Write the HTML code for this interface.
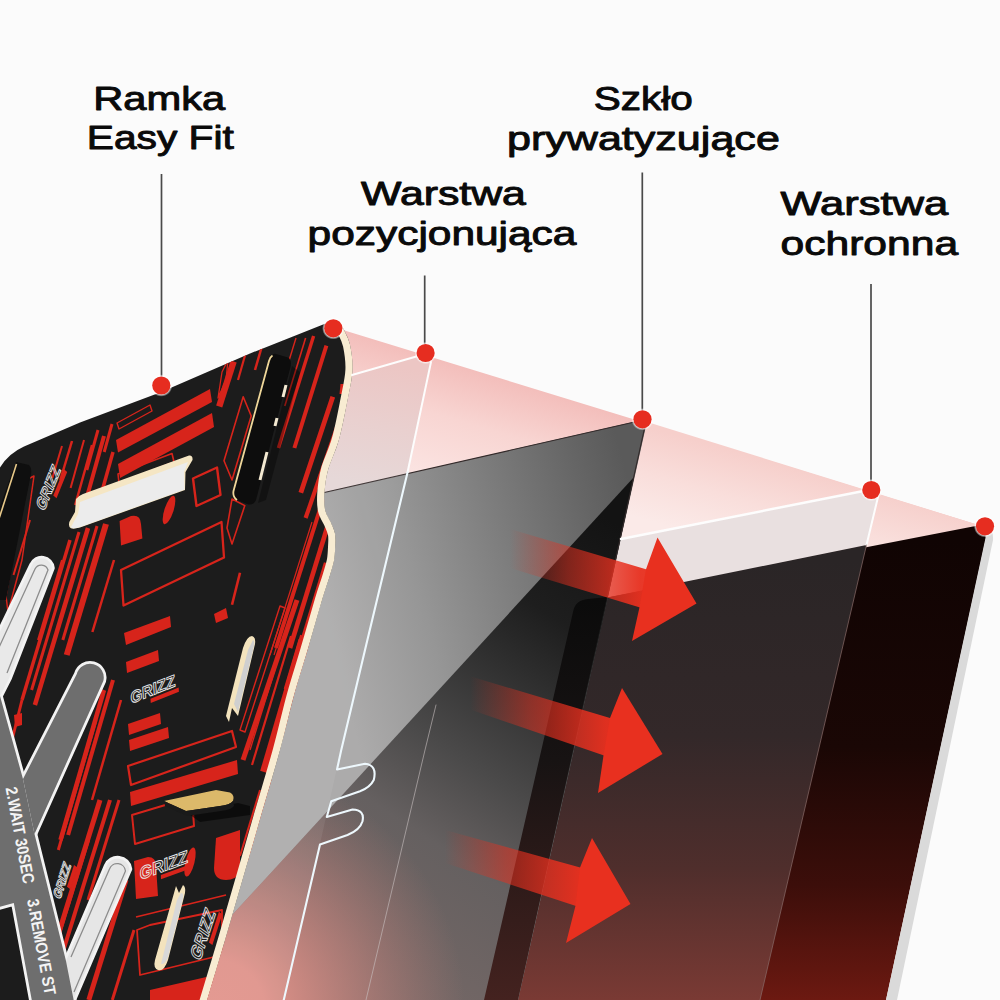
<!DOCTYPE html>
<html><head><meta charset="utf-8">
<style>
html,body{margin:0;padding:0;background:#fbfbfb;}
body{width:1000px;height:1000px;overflow:hidden;position:relative;font-family:"Liberation Sans",sans-serif;}
svg{position:absolute;left:0;top:0;}
.lbl{font-family:"Liberation Sans",sans-serif;font-size:33.5px;fill:#0a0a0a;stroke:#0a0a0a;stroke-width:0.95px;stroke-linejoin:round;text-anchor:middle;}
</style></head><body>
<svg width="1000" height="1000" viewBox="0 0 1000 1000">
<defs>
<linearGradient id="gPink" gradientUnits="userSpaceOnUse" x1="500" y1="378" x2="466" y2="490">
 <stop offset="0" stop-color="#f3bebb"/><stop offset="0.45" stop-color="#f8d5d2"/><stop offset="1" stop-color="#fbe4e2"/>
</linearGradient>
<linearGradient id="gPink2" gradientUnits="userSpaceOnUse" x1="760" y1="458" x2="736" y2="545">
 <stop offset="0" stop-color="#f6cfcb"/><stop offset="0.5" stop-color="#f9dedb"/><stop offset="1" stop-color="#fbeae8"/>
</linearGradient>
<linearGradient id="gPinkPos" gradientUnits="userSpaceOnUse" x1="390" y1="365" x2="365" y2="485">
 <stop offset="0" stop-color="#ecc6c4"/><stop offset="0.5" stop-color="#e9d0cf"/><stop offset="1" stop-color="#e6d8d8"/>
</linearGradient>
<linearGradient id="gPhone" gradientUnits="userSpaceOnUse" x1="0" y1="540" x2="0" y2="1000">
 <stop offset="0" stop-color="#100403"/><stop offset="0.45" stop-color="#1a0705"/><stop offset="0.75" stop-color="#3c0e0a"/><stop offset="1" stop-color="#6c1911"/>
</linearGradient>
<linearGradient id="gProt" gradientUnits="userSpaceOnUse" x1="0" y1="560" x2="0" y2="1000">
 <stop offset="0" stop-color="#2a2526"/><stop offset="0.4" stop-color="#332829"/><stop offset="0.7" stop-color="#4f2e2c"/><stop offset="1" stop-color="#7a3a34"/>
</linearGradient>
<linearGradient id="gBand" gradientUnits="userSpaceOnUse" x1="0" y1="600" x2="0" y2="1000">
 <stop offset="0" stop-color="#0b0b0b"/><stop offset="0.4" stop-color="#171313"/><stop offset="1" stop-color="#44221f"/>
</linearGradient>
<linearGradient id="gGlassL" gradientUnits="userSpaceOnUse" x1="320" y1="610" x2="640" y2="520">
 <stop offset="0" stop-color="#acabab"/><stop offset="0.3" stop-color="#969696"/><stop offset="0.62" stop-color="#7a7a7a"/><stop offset="0.85" stop-color="#666"/><stop offset="1" stop-color="#5a5a5a"/>
</linearGradient>
<linearGradient id="gGlassD" gradientUnits="userSpaceOnUse" x1="610" y1="520" x2="300" y2="990">
 <stop offset="0" stop-color="#131313"/><stop offset="0.2" stop-color="#1e1e1e"/><stop offset="0.31" stop-color="#2e2e2e"/><stop offset="0.5" stop-color="#4b4a4a"/><stop offset="0.65" stop-color="#656060"/><stop offset="1" stop-color="#7a6a68"/>
</linearGradient>
<radialGradient id="gGlow" gradientUnits="userSpaceOnUse" cx="215" cy="1010" r="250">
 <stop offset="0" stop-color="#e2938a" stop-opacity="1"/><stop offset="0.2" stop-color="#e2938a" stop-opacity="0.97"/><stop offset="0.6" stop-color="#d88a82" stop-opacity="0.48"/><stop offset="1" stop-color="#c88078" stop-opacity="0"/>
</radialGradient>
</defs>
<g id="scene">
<!-- pink planes -->
<polygon points="343,330 985,527 975,560 600,620 330,500 345,400" fill="url(#gPink)"/>
<polygon points="644,421 985,527 960,560 607,600" fill="url(#gPink2)"/>
<!-- positioning layer pink tint -->
<polygon points="345,377 425,354 431,362 407,473 320,494" fill="url(#gPinkPos)"/>
<!-- protective band (between white line and phone top) -->
<polygon points="618,540 868,490.5 879,496 866.5,545 607,598" fill="#e9e0e0"/>
<!-- phone -->
<path d="M600,599 L973,526.5 Q988,524 986,538 L886,1000 L480,1000 Z" fill="url(#gPhone)"/>
<!-- silver edge -->
<path d="M976,525.5 Q994,523 993,540 L897,1000 L886,1000 L985.5,538 Q986,528 976,525.5 Z" fill="#dadada"/>
<!-- protective layer over phone -->
<polygon points="600,599 866.5,545 760,1000 480,1000" fill="url(#gProt)"/>
<!-- privacy glass -->
<polygon points="318,494 642,420 646,426 518,1000 200,1000" fill="url(#gGlassL)"/>
<polygon points="634,477 603,620 518,1000 200,1000 200,950" fill="url(#gGlassD)"/>
<polygon points="634,477 603,620 518,1000 200,1000 200,950" fill="url(#gGlow)"/>
<path d="M320,493.5 L640,420.8 Q645,420 645,426 L607,598" stroke="#332a2a" stroke-width="1.1" fill="none"/>
<polygon points="318,494 407.5,472.5 365,650 341,750 320,844 284,1000 200,1000" fill="#fff" opacity="0.07"/>
<path d="M573,612 Q575,600 588,599 L607,597 L518,1000 L484,1000 Z" fill="url(#gBand)"/>
</g>
<!--FRAME-->
<g id="frame">
<path d="M-5,1010 L-5,478 Q3,456 24,446.5 L80,422.5 L160,392.5 L250,353.5 L325,323.75 C326.5,323.4 331.5,321.5 334.0,321.5 C336.5,321.5 338.3,322.6 340.0,324.0 C341.7,325.4 342.3,326.5 344.0,330.0 C345.7,333.5 348.6,338.3 350.0,345.0 C351.4,351.7 352.9,360.8 352.5,370.0 C352.1,379.2 349.8,388.3 347.5,400.0 C345.2,411.7 342.1,428.3 338.8,440.0 C335.6,451.7 330.4,461.2 328.0,470.0 C325.6,478.8 324.9,486.1 324.4,492.8 C323.9,499.5 323.9,505.0 325.0,510.0 C326.1,515.0 329.3,519.0 331.0,523.0 C332.7,527.0 334.3,530.3 335.0,534.0 C335.7,537.7 335.4,540.7 335.2,545.0 C335.0,549.3 334.9,555.0 334.0,560.0 C333.1,565.0 332.0,568.3 330.0,575.0 C328.0,581.7 325.8,587.5 322.0,600.0 C318.2,612.5 312.2,634.2 307.5,650.0 C302.8,665.8 298.6,678.3 294.0,695.0 C289.4,711.7 285.3,730.5 280.0,750.0 C274.7,769.5 268.2,790.7 262.0,812.0 C255.8,833.3 249.2,856.7 243.0,878.0 C236.8,899.3 231.0,919.7 225.0,940.0 C219.0,960.3 210.5,988.3 207.0,1000.0 C203.5,1011.7 204.5,1008.3 204.0,1010.0 Z" fill="#1c1c1c"/>
<clipPath id="fclip"><path d="M-5,1010 L-5,478 Q3,456 24,446.5 L80,422.5 L160,392.5 L250,353.5 L325,323.75 C326.5,323.4 331.5,321.5 334.0,321.5 C336.5,321.5 338.3,322.6 340.0,324.0 C341.7,325.4 342.3,326.5 344.0,330.0 C345.7,333.5 348.6,338.3 350.0,345.0 C351.4,351.7 352.9,360.8 352.5,370.0 C352.1,379.2 349.8,388.3 347.5,400.0 C345.2,411.7 342.1,428.3 338.8,440.0 C335.6,451.7 330.4,461.2 328.0,470.0 C325.6,478.8 324.9,486.1 324.4,492.8 C323.9,499.5 323.9,505.0 325.0,510.0 C326.1,515.0 329.3,519.0 331.0,523.0 C332.7,527.0 334.3,530.3 335.0,534.0 C335.7,537.7 335.4,540.7 335.2,545.0 C335.0,549.3 334.9,555.0 334.0,560.0 C333.1,565.0 332.0,568.3 330.0,575.0 C328.0,581.7 325.8,587.5 322.0,600.0 C318.2,612.5 312.2,634.2 307.5,650.0 C302.8,665.8 298.6,678.3 294.0,695.0 C289.4,711.7 285.3,730.5 280.0,750.0 C274.7,769.5 268.2,790.7 262.0,812.0 C255.8,833.3 249.2,856.7 243.0,878.0 C236.8,899.3 231.0,919.7 225.0,940.0 C219.0,960.3 210.5,988.3 207.0,1000.0 C203.5,1011.7 204.5,1008.3 204.0,1010.0 Z"/></clipPath>
<g clip-path="url(#fclip)">
<polygon points="116.0,440.0 210.0,389.0 212.0,402.0 118.0,452.5" fill="#d7241b" />
<polygon points="118.0,464.0 212.0,413.0 214.0,427.0 120.0,478.0" fill="#d7241b" />
<polygon points="117.0,423.0 150.0,405.0 152.0,411.0 119.0,429.0" fill="none" stroke="#d7241b" stroke-width="1.4" stroke-linejoin="round"/>
<polygon points="121.0,570.0 221.5,522.0 224.0,557.5 123.5,605.5" fill="none" stroke="#d7241b" stroke-width="2.3" stroke-linejoin="round"/>
<polygon points="193.0,478.5 217.0,467.5 220.5,495.0 196.5,506.0" fill="none" stroke="#d7241b" stroke-width="2.4" stroke-linejoin="round"/>
<path d="M119.6,521 L131,516 Q140.5,514 141,524 L142.4,538.4 L121,545.6 Z" fill="#d7241b"/>
<ellipse cx="169" cy="510" rx="4.5" ry="15" transform="rotate(18 169 510)" fill="#d7241b"/>
<polygon points="118.0,474.0 172.0,453.5 174.0,462.0 119.0,483.0" fill="none" stroke="#d7241b" stroke-width="1.6" stroke-linejoin="round"/>
<polygon points="214.0,614.0 226.0,608.0 228.0,618.0 216.0,623.0" fill="#d7241b" />
<polygon points="124.0,633.0 170.0,616.0 171.0,627.0 126.0,645.0" fill="#d7241b" />
<polygon points="126.0,662.0 158.0,650.0 159.0,661.0 127.0,673.0" fill="#d7241b" />
<polygon points="128.0,724.0 160.0,713.0 161.0,724.0 129.0,735.0" fill="#d7241b" />
<polygon points="129.0,740.0 168.0,727.0 169.0,738.0 130.0,751.0" fill="#d7241b" />
<polygon points="128.0,766.0 232.0,731.0 236.0,747.0 131.0,785.0" fill="none" stroke="#d7241b" stroke-width="2.2" stroke-linejoin="round"/>
<polygon points="130.0,792.0 237.0,760.0 238.0,774.0 131.0,806.0" fill="#d7241b" />
<polygon points="132.0,815.0 192.0,797.0 194.0,826.0 135.0,844.0" fill="none" stroke="#d7241b" stroke-width="2.0" stroke-linejoin="round"/>
<path d="M216,838 L240,830 L240,872 Q236,880 226,880 Q214,880 214,868 Z" fill="#d7241b"/>
<path d="M134,861 L148,857 Q156,857 156,866 L158,896 L136,899 Z" fill="#d7241b"/>
<ellipse cx="190" cy="862" rx="4.5" ry="15" transform="rotate(14 190 862)" fill="#d7241b"/>
<line x1="136.0" y1="917.0" x2="226.0" y2="895.0" stroke="#d7241b" stroke-width="1.8" stroke-linecap="butt"/>
<polygon points="137.0,930.0 150.0,925.0 222.0,910.0 222.0,955.0 140.0,975.0" fill="none" stroke="#d7241b" stroke-width="1.8" stroke-linejoin="round"/>
<polygon points="150.0,990.0 215.0,975.0 214.0,1000.0 150.0,1000.0" fill="#d7241b" />
<line x1="62.0" y1="446.0" x2="52.4" y2="478.0" stroke="#d7241b" stroke-width="2.0" stroke-linecap="butt"/>
<line x1="72.0" y1="441.0" x2="60.3" y2="480.0" stroke="#d7241b" stroke-width="2.5" stroke-linecap="butt"/>
<line x1="98.0" y1="430.0" x2="86.8" y2="470.0" stroke="#d7241b" stroke-width="3.0" stroke-linecap="butt"/>
<line x1="112.0" y1="424.0" x2="104.2" y2="452.0" stroke="#d7241b" stroke-width="3.0" stroke-linecap="butt"/>
<line x1="104.0" y1="436.0" x2="86.1" y2="500.0" stroke="#d7241b" stroke-width="4.0" stroke-linecap="butt"/>
<line x1="92.0" y1="445.0" x2="75.2" y2="505.0" stroke="#d7241b" stroke-width="2.5" stroke-linecap="butt"/>
<line x1="84.0" y1="440.0" x2="70.6" y2="488.0" stroke="#d7241b" stroke-width="2.0" stroke-linecap="butt"/>
<line x1="113.0" y1="452.0" x2="101.8" y2="492.0" stroke="#d7241b" stroke-width="3.5" stroke-linecap="butt"/>
<polygon points="26.0,480.0 34.0,476.0 22.0,560.0 8.0,612.0 6.0,596.0" fill="none" stroke="#d7241b" stroke-width="1.5" stroke-linejoin="round"/>
<line x1="70.0" y1="540.0" x2="22.0" y2="700.0" stroke="#d7241b" stroke-width="3.5" stroke-linecap="butt"/>
<line x1="79.0" y1="532.0" x2="31.6" y2="690.0" stroke="#d7241b" stroke-width="3.0" stroke-linecap="butt"/>
<line x1="88.0" y1="528.0" x2="34.9" y2="705.0" stroke="#d7241b" stroke-width="4.5" stroke-linecap="butt"/>
<line x1="97.0" y1="526.0" x2="62.8" y2="640.0" stroke="#d7241b" stroke-width="3.0" stroke-linecap="butt"/>
<line x1="106.0" y1="524.0" x2="66.7" y2="655.0" stroke="#d7241b" stroke-width="6.0" stroke-linecap="butt"/>
<line x1="114.0" y1="560.0" x2="92.4" y2="632.0" stroke="#d7241b" stroke-width="2.5" stroke-linecap="butt"/>
<line x1="62.0" y1="560.0" x2="38.0" y2="640.0" stroke="#d7241b" stroke-width="2.0" stroke-linecap="butt"/>
<line x1="104.0" y1="690.0" x2="60.5" y2="840.0" stroke="#d7241b" stroke-width="4.5" stroke-linecap="butt"/>
<line x1="113.0" y1="680.0" x2="68.1" y2="835.0" stroke="#d7241b" stroke-width="4.0" stroke-linecap="butt"/>
<line x1="121.0" y1="700.0" x2="92.0" y2="800.0" stroke="#d7241b" stroke-width="2.5" stroke-linecap="butt"/>
<line x1="96.0" y1="720.0" x2="58.3" y2="850.0" stroke="#d7241b" stroke-width="3.0" stroke-linecap="butt"/>
<line x1="100.0" y1="800.0" x2="38.0" y2="1000.0" stroke="#d7241b" stroke-width="5.0" stroke-linecap="butt"/>
<line x1="110.0" y1="800.0" x2="60.4" y2="960.0" stroke="#d7241b" stroke-width="4.0" stroke-linecap="butt"/>
<line x1="119.0" y1="800.0" x2="88.0" y2="900.0" stroke="#d7241b" stroke-width="3.0" stroke-linecap="butt"/>
<line x1="126.0" y1="880.0" x2="88.8" y2="1000.0" stroke="#d7241b" stroke-width="5.0" stroke-linecap="butt"/>
<line x1="88.0" y1="840.0" x2="50.8" y2="960.0" stroke="#d7241b" stroke-width="4.0" stroke-linecap="butt"/>
<line x1="134.0" y1="930.0" x2="112.3" y2="1000.0" stroke="#d7241b" stroke-width="3.0" stroke-linecap="butt"/>
<line x1="30.0" y1="520.0" x2="13.5" y2="575.0" stroke="#d7241b" stroke-width="2.0" stroke-linecap="butt"/>
<line x1="22.0" y1="700.0" x2="7.0" y2="760.0" stroke="#d7241b" stroke-width="3.0" stroke-linecap="butt"/>
<polygon points="14.0,715.0 22.0,713.0 22.0,725.0 15.0,727.0" fill="#d7241b" />
<polygon points="10.0,790.0 24.0,786.0 25.0,800.0 11.0,804.0" fill="#d7241b" />
<polygon points="12.0,812.0 22.0,809.0 23.0,820.0 13.0,823.0" fill="#d7241b" />
<line x1="233.6" y1="361.6" x2="219.2" y2="406.4" stroke="#d7241b" stroke-width="6.4" stroke-linecap="butt"/>
<line x1="246.0" y1="352.0" x2="238.0" y2="380.0" stroke="#d7241b" stroke-width="2.2" stroke-linecap="butt"/>
<line x1="262.0" y1="346.0" x2="255.0" y2="370.0" stroke="#d7241b" stroke-width="2.5" stroke-linecap="butt"/>
<polygon points="243.2,396.8 251.2,416.0 232.0,480.0 224.0,460.8" fill="none" stroke="#d7241b" stroke-width="1.6" stroke-linejoin="round"/>
<polygon points="232.0,499.0 244.8,505.6 232.0,544.0 227.0,528.0" fill="none" stroke="#d7241b" stroke-width="1.6" stroke-linejoin="round"/>
<polygon points="222.0,372.0 228.0,360.0 226.0,380.0 218.0,398.0" fill="none" stroke="#d7241b" stroke-width="1.3" stroke-linejoin="round"/>
<line x1="240.0" y1="572.8" x2="232.0" y2="604.8" stroke="#d7241b" stroke-width="2.6" stroke-linecap="butt"/>
<line x1="313.6" y1="336.0" x2="278.4" y2="448.0" stroke="#d7241b" stroke-width="3.4" stroke-linecap="butt"/>
<line x1="326.4" y1="345.6" x2="294.4" y2="448.0" stroke="#d7241b" stroke-width="4.0" stroke-linecap="butt"/>
<line x1="305.6" y1="338.0" x2="284.8" y2="406.0" stroke="#d7241b" stroke-width="1.6" stroke-linecap="butt"/>
<line x1="296.0" y1="338.0" x2="283.0" y2="380.0" stroke="#d7241b" stroke-width="1.4" stroke-linecap="butt"/>
<line x1="332.8" y1="396.8" x2="300.8" y2="492.8" stroke="#d7241b" stroke-width="4.8" stroke-linecap="butt"/>
<line x1="337.6" y1="425.6" x2="305.6" y2="518.0" stroke="#d7241b" stroke-width="4.2" stroke-linecap="butt"/>
<polygon points="340.5,384.0 344.0,384.0 343.0,394.0 339.5,394.0" fill="#d7241b" />
<line x1="323.2" y1="499.0" x2="276.0" y2="648.0" stroke="#d7241b" stroke-width="4.0" stroke-linecap="butt"/>
<line x1="328.0" y1="524.8" x2="290.0" y2="648.0" stroke="#d7241b" stroke-width="4.6" stroke-linecap="butt"/>
<line x1="317.0" y1="518.0" x2="274.0" y2="655.0" stroke="#d7241b" stroke-width="1.2" stroke-linecap="butt"/>
<line x1="312.0" y1="522.0" x2="270.0" y2="655.0" stroke="#d7241b" stroke-width="1.2" stroke-linecap="butt"/>
<line x1="326.4" y1="563.0" x2="300.0" y2="650.0" stroke="#d7241b" stroke-width="5.2" stroke-linecap="butt"/>
<line x1="304.0" y1="636.0" x2="264.0" y2="772.0" stroke="#d7241b" stroke-width="8.0" stroke-linecap="butt"/>
<line x1="291.0" y1="636.0" x2="252.0" y2="765.0" stroke="#d7241b" stroke-width="2.2" stroke-linecap="butt"/>
<line x1="284.0" y1="640.0" x2="250.0" y2="750.0" stroke="#d7241b" stroke-width="1.4" stroke-linecap="butt"/>
<line x1="310.0" y1="642.0" x2="280.0" y2="742.0" stroke="#d7241b" stroke-width="3.0" stroke-linecap="butt"/>
<line x1="272.0" y1="780.0" x2="248.0" y2="862.0" stroke="#d7241b" stroke-width="6.5" stroke-linecap="butt"/>
<line x1="260.0" y1="790.0" x2="240.0" y2="856.0" stroke="#d7241b" stroke-width="2.0" stroke-linecap="butt"/>
<line x1="284.0" y1="760.0" x2="262.0" y2="836.0" stroke="#d7241b" stroke-width="2.5" stroke-linecap="butt"/>
<line x1="252.0" y1="872.0" x2="226.0" y2="958.0" stroke="#d7241b" stroke-width="4.5" stroke-linecap="butt"/>
<line x1="262.0" y1="860.0" x2="240.0" y2="930.0" stroke="#d7241b" stroke-width="2.5" stroke-linecap="butt"/>
<line x1="240.0" y1="930.0" x2="216.0" y2="1005.0" stroke="#d7241b" stroke-width="4.5" stroke-linecap="butt"/>
<line x1="228.0" y1="935.0" x2="206.0" y2="1005.0" stroke="#d7241b" stroke-width="2.0" stroke-linecap="butt"/>
<polygon points="280.0,606.0 285.0,608.0 245.0,732.0 240.0,730.0" fill="none" stroke="#d7241b" stroke-width="1.4" stroke-linejoin="round"/>
<line x1="297.0" y1="600.0" x2="243.0" y2="760.0" stroke="#d7241b" stroke-width="5.0" stroke-linecap="butt"/>
<line x1="303.0" y1="640.0" x2="288.0" y2="690.0" stroke="#d7241b" stroke-width="9.0" stroke-linecap="butt"/>
<g transform="translate(131.0,704.0) rotate(-22.0) skewX(-18) scale(1.00,1)"><text font-family="Liberation Sans, sans-serif" font-weight="bold" font-size="16.0" fill="none" stroke="#e9e9e9" stroke-width="0.9">GRIZZ</text><rect x="20.8" y="2.5" width="30.4" height="4" fill="#d7241b"/></g>
<g transform="translate(140.0,880.0) rotate(-20.0) skewX(-18) scale(1.00,1)"><text font-family="Liberation Sans, sans-serif" font-weight="bold" font-size="17.0" fill="none" stroke="#e9e9e9" stroke-width="0.9">GRIZZ</text><rect x="22.1" y="2.5" width="32.3" height="4" fill="#d7241b"/></g>
<g transform="translate(200.0,962.0) rotate(-72.0) skewX(-18) scale(1.00,1)"><text font-family="Liberation Sans, sans-serif" font-weight="bold" font-size="17.0" fill="none" stroke="#e9e9e9" stroke-width="0.9">GRIZZ</text><rect x="22.1" y="2.5" width="32.3" height="4" fill="#d7241b"/></g>
<g transform="translate(44.0,512.0) rotate(-68.0) skewX(-18) scale(1.00,1)"><text font-family="Liberation Sans, sans-serif" font-weight="bold" font-size="15.0" fill="none" stroke="#e9e9e9" stroke-width="0.9">GRIZZ</text><rect x="19.5" y="2.5" width="28.5" height="4" fill="#d7241b"/></g>
<g transform="translate(60.0,900.0) rotate(-72.0) skewX(-18) scale(1.00,1)"><text font-family="Liberation Sans, sans-serif" font-weight="bold" font-size="12.0" fill="none" stroke="#e9e9e9" stroke-width="0.9">GRIZZ</text><rect x="15.6" y="2.5" width="22.8" height="4" fill="#d7241b"/></g>
<!-- left black tab -->
<path d="M16,462 L29,465 Q32,468 31,474 L6,600 L-5,600 L-5,520 Z" fill="#0f0f0f"/>
<path d="M16.5,464 L-2,522" stroke="#e8c98a" stroke-width="1.6" fill="none"/>
<!-- upper-right black raised tab -->
<path d="M276,354 L288,357.5 Q292,360 290.5,367 L256,500 Q253,506 247,504 L237,500 Q233,497 234,492 L270,359 Q272,353 276,354 Z" fill="#0d0d0d"/>
<path d="M292,366 L258,503 L266,500 L300,372 Z" fill="#000" opacity="0.35"/>
<path d="M272.5,355.5 Q270,357 269,361 L233.5,491 Q232.5,497 237,500" stroke="#efd79a" stroke-width="1.8" fill="none"/>
<path d="M286,385 L283,397 M277,418 L275,426 M267,452 L260,480" stroke="#f4ead2" stroke-width="3" fill="none"/>
<!-- white slot -->
<path d="M76,499 Q78,496 83,494 L189,455.5 Q193,455 192.5,460 L185.5,472 L185,490 L80,527.5 Q71,530 69.5,527 Q68,523 71,519 L75,512 Z" fill="#f5e6c4"/>
<path d="M80,502 L188,462 L184,472 L184.5,489.5 L80,527 Q72,529.5 71,527 L78,514 Z" fill="#ececec"/>
<!-- slot 2 -->
<path d="M252,636 Q256,637 255,644 L238,716 L232,708 L229,722 L226,716 L243,648 Q247,636 252,636 Z" fill="#f3e3bd"/>
<path d="M253,640 Q255,641 254,646 L238,712 L234,704 L248,650 Z" fill="#cfcfcf"/>
<!-- slot 3 -->
<path d="M176,886 L179,893 L183,885 Q186,887 185,893 L168,960 Q164,972 158,970 Q153,968 155,960 Z" fill="#f3e3bd"/>
<path d="M181,893 Q184,893 183,898 L168,957 Q165,965 161,964 L177,900 Z" fill="#d8d8d8"/>
<!-- gold tab -->
<path d="M186,812 L238,803 L250,806 L250,815 L200,822 Z" fill="#000" opacity="0.55"/>
<path d="M164,801 L216,790 L230,792.5 Q235,795 233,801 Q230,805 220,806 L186,811 Z" fill="#dcb96a"/>
<path d="M164,801 L186,811 L220,806 Q230,805 233,801 L234,806 Q231,810 221,811 L187,816 L165,806 Z" fill="#1a1a1a"/>
<!-- branches -->
<g stroke="#f3f3f3" stroke-width="5.5" stroke-linejoin="round" fill="none">
<path id="brT" d="M-8,686 L0,696 L23,779 L34.5,834 L66,961 L76,1012 L34,1012 L13.8,903 L-8,909 Z"/>
<path id="brA" d="M-8,648 L32,565 A10.4,10.4 0 0 1 52,568 L9.2,678 L-8,712 Z"/>
<path id="brB" d="M23,779 L76.8,674 A13.6,13.6 0 0 1 103.3,681 L34.5,834 Z"/>
<path id="brC" d="M66,961 L106.5,866 A12,12 0 0 1 129.5,869 L72,1003 L64,1012 Z"/>
</g>
<use href="#brA" fill="#e9e9e9" stroke="none"/>
<use href="#brC" fill="#e6e6e6" stroke="none"/>
<use href="#brT" fill="#6e6e6e" stroke="none"/>
<use href="#brB" fill="#6e6e6e" stroke="none"/>
<path d="M-4,654 L35,569 A7,7 0 0 1 48,570 L7,673" fill="none" stroke="#8c8c8c" stroke-width="1.3"/>
<path d="M71,957 L109.5,869 A8.3,8.3 0 0 1 125.5,871 L74,992" fill="none" stroke="#8c8c8c" stroke-width="1.3"/>
<g font-family="Liberation Sans, sans-serif" font-weight="bold" font-size="14.5" fill="#f4f4f4">
<text transform="translate(5.5,788) rotate(79.5) scale(1.0,1.15)">2.WAIT 30SEC</text>
<text transform="translate(27,900) rotate(79.5) scale(1.0,1.15)">3.REMOVE ST</text>
</g>

</g>
<path d="M337.1,325.9 C337.7,326.9 339.3,328.2 340.8,331.5 C342.4,334.8 345.2,339.3 346.6,345.7 C347.9,352.1 349.4,360.9 349.0,369.8 C348.6,378.8 346.3,387.8 344.1,399.3 C341.8,410.9 338.7,427.4 335.4,439.1 C332.2,450.7 327.0,460.2 324.6,469.1 C322.2,478.0 321.4,485.6 320.9,492.5 C320.4,499.5 320.4,505.4 321.6,510.7 C322.7,516.0 326.1,520.4 327.8,524.3 C329.4,528.3 330.9,531.2 331.6,534.7 C332.2,538.1 331.9,540.7 331.7,544.9 C331.5,549.0 331.4,554.5 330.6,559.4 C329.7,564.3 328.6,567.4 326.6,574.0 C324.7,580.6 322.4,586.5 318.6,599.0 C314.9,611.5 308.8,633.2 304.1,649.0 C299.5,664.9 295.2,677.4 290.6,694.1 C286.0,710.7 282.0,729.6 276.6,749.1 C271.3,768.6 264.8,789.7 258.6,811.0 C252.5,832.4 245.8,855.7 239.6,877.0 C233.5,898.4 227.6,918.7 221.6,939.0 C215.6,959.3 207.1,987.3 203.6,999.0 C200.1,1010.7 201.1,1007.3 200.6,1009.0" fill="none" stroke="#f8ecd2" stroke-width="7.2"/>
</g>
<!--/FRAME-->
<g id="over">
<defs>
<linearGradient id="gA1" gradientUnits="userSpaceOnUse" x1="510" y1="0" x2="640" y2="0">
 <stop offset="0" stop-color="#e8301f" stop-opacity="0"/><stop offset="0.45" stop-color="#e8301f" stop-opacity="0.5"/><stop offset="1" stop-color="#e8301f" stop-opacity="0.95"/>
</linearGradient>
<linearGradient id="gA2" gradientUnits="userSpaceOnUse" x1="470" y1="0" x2="606" y2="0">
 <stop offset="0" stop-color="#e8301f" stop-opacity="0"/><stop offset="0.45" stop-color="#e8301f" stop-opacity="0.5"/><stop offset="1" stop-color="#e8301f" stop-opacity="0.95"/>
</linearGradient>
<linearGradient id="gA3" gradientUnits="userSpaceOnUse" x1="445" y1="0" x2="578" y2="0">
 <stop offset="0" stop-color="#e8301f" stop-opacity="0"/><stop offset="0.45" stop-color="#e8301f" stop-opacity="0.5"/><stop offset="1" stop-color="#e8301f" stop-opacity="0.95"/>
</linearGradient>
<radialGradient id="gHalo"><stop offset="0.8" stop-color="#fff" stop-opacity="0.85"/><stop offset="1" stop-color="#fff" stop-opacity="0"/></radialGradient>
</defs>
<!-- white outlines -->
<g fill="none" stroke="#fdfdfd" stroke-linejoin="round" stroke-linecap="round">
<path d="M352,375 L425,354" stroke-width="2"/>
<path d="M431,362 L407.5,472.5" stroke-width="2"/>
<path d="M407.5,472.5 L365,650 L341.25,750 L337,769.5 L365,763.75 Q377.5,765 373.75,780 Q370,787.5 360,791.25 L331.25,801.25 L326.75,817 L352.5,809.5 Q365,810 362.5,821.25 Q360,830 347.5,835 L320,844.5 L283.75,1000" stroke="#eef8fd" stroke-width="2.1"/>
<path d="M621,539 L866,490.5" stroke-width="2.4"/>
<path d="M878,497 L866.5,545" stroke-width="2"/>
<path d="M866.5,545 L760,1000" stroke="#8a6c6a" stroke-width="1" opacity="0.7"/>
<path d="M436,705 L425,750 L366,1000" stroke="#c9c2c2" stroke-width="1" opacity="0.6"/>
</g>
<!-- arrows -->
<path d="M510,529 L648.5,570 L640,607.5 L510,568 Z" fill="url(#gA1)"/>
<path d="M646,569.3 L657.5,537.5 L696.5,603.5 L632,641 L639.5,607.3 Z" fill="#e8301f"/>
<path d="M470,676.2 L612.5,718.8 L604,755.6 L470,709.4 Z" fill="url(#gA2)"/>
<path d="M610,718 L622,688 L662.5,754 L598,793 L603.5,755.5 Z" fill="#e8301f"/>
<path d="M445,830 L582,868 L576,906 L445,863 Z" fill="url(#gA3)"/>
<path d="M580,867.5 L592,838 L630.5,904 L566,943 L575.5,905.8 Z" fill="#e8301f"/>
<!-- leader lines -->
<g stroke="#4a4a4a" stroke-width="1.7">
<line x1="161.5" y1="174" x2="161.5" y2="380"/>
<line x1="424.7" y1="275.5" x2="424.7" y2="348"/>
<line x1="642.3" y1="172.5" x2="642.3" y2="414"/>
<line x1="871" y1="284" x2="871" y2="485"/>
</g>
<!-- dots -->
<g>
<circle cx="161.3" cy="385.5" r="11.2" fill="url(#gHalo)"/><circle cx="161.3" cy="385.5" r="9.1" fill="#e62d20"/>
<circle cx="333.3" cy="328.3" r="11.2" fill="url(#gHalo)"/><circle cx="333.3" cy="328.3" r="9.1" fill="#e62d20"/>
<circle cx="425.6" cy="353" r="11.2" fill="url(#gHalo)"/><circle cx="425.6" cy="353" r="9.1" fill="#e62d20"/>
<circle cx="642.5" cy="419.3" r="11.2" fill="url(#gHalo)"/><circle cx="642.5" cy="419.3" r="9.1" fill="#e62d20"/>
<circle cx="871.3" cy="490" r="11.2" fill="url(#gHalo)"/><circle cx="871.3" cy="490" r="9.1" fill="#e62d20"/>
<circle cx="985" cy="526.3" r="11.2" fill="url(#gHalo)"/><circle cx="985" cy="526.3" r="9.1" fill="#e62d20"/>
</g>
</g>
<!--LABELS-->
<g class="lbl">
<text id="t1" transform="translate(159.2,110.1) scale(1.245,1)">Ramka</text>
<text id="t2" transform="translate(160.3,149.3) scale(1.217,1)">Easy Fit</text>
<text id="t3" transform="translate(443.5,204.9) scale(1.278,1)">Warstwa</text>
<text id="t4" transform="translate(442,245.1) scale(1.267,1)">pozycjonująca</text>
<text id="t5" transform="translate(643.3,109.5) scale(1.21,1)">Szkło</text>
<text id="t6" transform="translate(643.4,149.8) scale(1.286,1)">prywatyzujące</text>
<text id="t7" transform="translate(864.3,215.0) scale(1.30,1)">Warstwa</text>
<text id="t8" transform="translate(869.3,254.8) scale(1.272,1)">ochronna</text>
</g>
</svg>
</body></html>
